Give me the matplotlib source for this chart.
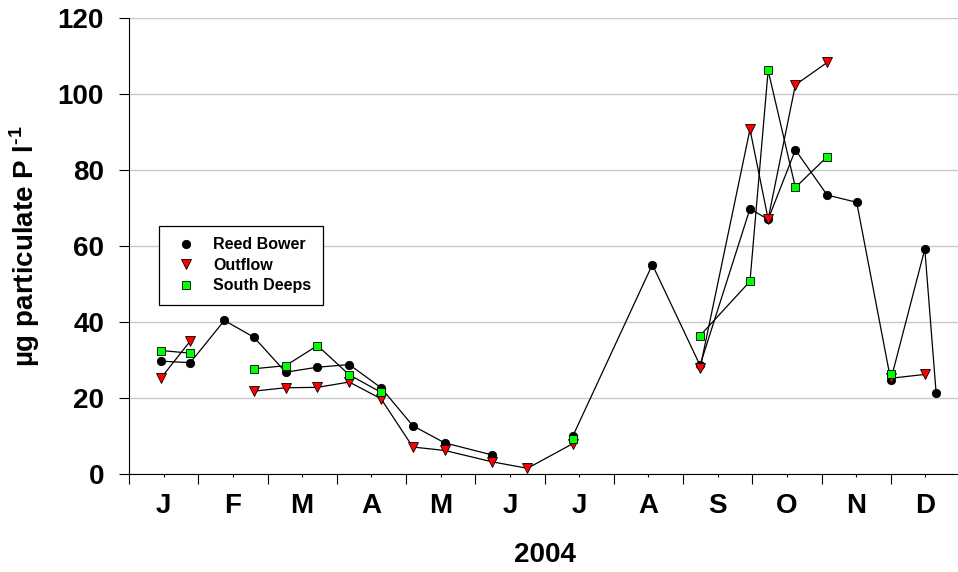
import numpy as np
import matplotlib
matplotlib.use('Agg')
import matplotlib.pyplot as plt

plt.rcParams['font.family'] = ['Liberation Sans', 'DejaVu Sans']
plt.rcParams['font.weight'] = 'bold'
plt.rcParams['mathtext.fontset'] = 'custom'
plt.rcParams['mathtext.rm'] = 'Liberation Sans:bold'
plt.rcParams['mathtext.bf'] = 'Liberation Sans:bold'

# sampling dates (day of year, 2004)
days = [14, 27, 42, 55, 69, 83, 97, 111, 125, 139, 160, 175.5, 195.5,
        230.5, 251.5, 273.5, 281.5, 293.5, 307.5, 320.5, 335.5, 350.5, 355.5]

reed_bower = [29.7, 29.3, 40.4, 36.0, 26.8, 28.1, 28.8, 22.7, 12.7, 8.2, 5.0, np.nan, 10.0,
              55.1, 28.6, 69.8, 67.0, 85.3, 73.4, 71.5, 24.7, 59.2, 21.2]
outflow = [25.2, 35.0, np.nan, 21.8, 22.7, 22.8, 24.2, 19.8, 7.1, 6.2, 3.2, 1.5, 8.0,
           np.nan, 27.8, 90.7, 67.1, 102.4, 108.3, np.nan, 25.2, 26.2, np.nan]
south_deeps = [32.5, 31.8, np.nan, 27.7, 28.5, 33.8, 26.1, 21.5, np.nan, np.nan, np.nan, np.nan, 9.1,
               np.nan, 36.4, 50.7, 106.2, 75.4, 83.5, np.nan, 26.2, np.nan, np.nan]

months = ['J', 'F', 'M', 'A', 'M', 'J', 'J', 'A', 'S', 'O', 'N', 'D']
month_len = 366 / 12

fig = plt.figure(figsize=(9.58, 5.72), dpi=100)
ax = fig.add_axes([129 / 958, 1 - 474 / 572, 831 / 958, 456 / 572])

ax.plot(days, reed_bower, color='black', lw=0.9, marker='o', ms=6,
        mfc='black', mec='black', mew=0.6, label='Reed Bower', zorder=3)
ax.plot(days, outflow, color='black', lw=0.9, marker='v', ms=7,
        mfc='#ff0000', mec='black', mew=0.6, label='Outflow', zorder=4)
ax.plot(days, south_deeps, color='black', lw=0.9, marker='s', ms=5.5,
        mfc='#00ff00', mec='black', mew=0.6, label='South Deeps', zorder=5)

ax.set_xlim(0, 366)
ax.set_ylim(0, 120)
ax.set_yticks(np.arange(0, 121, 20))
ax.set_xticks(np.arange(13) * month_len)
ax.set_xticklabels([])
ax.set_xticks((np.arange(12) + 0.5) * month_len, minor=True)
ax.set_xticklabels(months, minor=True)

ax.tick_params(axis='y', which='major', length=7, width=0.8, pad=11, labelsize=20)
ax.tick_params(axis='x', which='major', length=7, width=0.8)
ax.tick_params(axis='x', which='minor', length=2, width=0.8, pad=12, labelsize=20)

ax.yaxis.grid(True, color='#c8c8c8', lw=1)
ax.set_axisbelow(True)
for s in ['top', 'right']:
    ax.spines[s].set_visible(False)
for s in ['left', 'bottom']:
    ax.spines[s].set_linewidth(0.8)

ax.set_xlabel('2004', fontsize=20, fontweight='bold', labelpad=16)
ax.set_ylabel(r'µg particulate P l$^{\text{-1}}$', fontsize=20, fontweight='bold', labelpad=11)

leg = ax.legend(loc='upper left', bbox_to_anchor=(159 / 958, 1 - 226 / 572),
                bbox_transform=fig.transFigure, borderaxespad=0, fontsize=11.5,
                frameon=True, fancybox=False, edgecolor='black', framealpha=1,
                borderpad=0.7, handlelength=2.0, handletextpad=0.7, labelspacing=0.35,
                numpoints=1)
leg.get_frame().set_linewidth(0.9)
for line in leg.get_lines():
    line.set_linestyle('none')

fig.savefig('out.png', dpi=100)
